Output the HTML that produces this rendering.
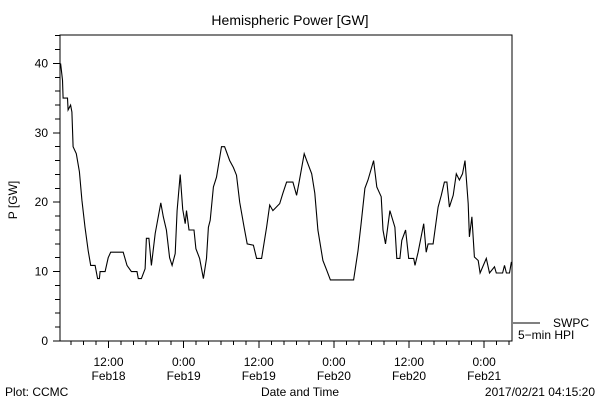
<!DOCTYPE html>
<html><head><meta charset="utf-8"><style>
body{margin:0;background:#fff}
svg text{font-family:"Liberation Sans",sans-serif;fill:#000}
</style></head><body>
<svg id="chart" width="600" height="400" viewBox="0 0 600 400" xmlns="http://www.w3.org/2000/svg">
<rect width="600" height="400" fill="#fff"/>
<text x="290" y="25" font-size="14" text-anchor="middle">Hemispheric Power [GW]</text>
<text x="0" y="0" font-size="12" text-anchor="middle" transform="translate(17,200) rotate(-90)">P [GW]</text>
<text x="300" y="396" font-size="12" text-anchor="middle">Date and Time</text>
<text x="5" y="396" font-size="12">Plot: CCMC</text>
<text x="595" y="396" font-size="12" text-anchor="end">2017/02/21 04:15:20</text>
<g id="axes"></g>
<g id="series"></g>
<g>
<line x1="513" y1="323" x2="540" y2="323" stroke="#000" stroke-width="1"/>
<text x="553" y="327" font-size="12">SWPC</text>
<text x="518" y="339" font-size="12">5−min HPI</text>
</g>
</svg>
<script>
const hours=[0.1,0.4,0.5,1.2,1.3,1.7,1.9,2.1,2.6,3.1,3.5,4.0,4.5,4.9,5.6,6.0,6.3,6.4,7.2,7.7,8.1,10.1,10.7,11.4,12.3,12.5,13.0,13.6,13.8,14.2,14.6,15.2,15.5,16.1,16.5,17.0,17.5,17.9,18.4,18.7,19.2,19.6,20.0,20.2,20.6,21.4,21.7,22.3,22.9,23.4,23.7,24.0,24.5,25.0,25.8,26.3,27.1,27.7,28.2,28.7,29.4,29.9,30.9,31.4,32.2,33.0,33.5,34.0,35.1,35.6,36.2,37.2,37.8,38.2,39.0,39.4,40.2,40.7,41.2,42.0,42.6,43.2,46.9,47.6,48.1,48.7,49.2,50.1,50.6,51.3,51.6,52.0,52.7,53.5,53.8,54.3,54.6,55.2,55.7,56.5,56.7,57.2,58.1,58.5,58.8,59.6,60.4,60.9,61.4,61.8,62.2,62.8,63.3,63.8,64.3,64.7,65.2,65.4,65.8,66.2,66.8,67.1,68.1,68.6,69.4,69.7,70.7,71.0,71.3,71.8,72.1];
const power=[40,37.6,35,35,33.3,34,33,28,27,24.4,20.3,16.4,13,10.9,10.9,9,9,10,10,12,12.8,12.8,10.9,10,10,9,9,10.4,14.8,14.8,10.9,15.5,16.9,19.9,17.9,16,12,10.9,12.6,18.8,24,19,16.9,18.8,16,16,13.3,11.9,9,11.9,16.4,17.4,22.2,23.6,28,28,26,25,23.9,20,16.4,14,13.8,11.9,11.9,16.4,19.6,18.8,19.8,21.3,22.9,22.9,21,22.9,27,26,24.1,21.3,16,11.6,10.2,8.8,8.8,13,16.9,22,23.2,26,22.2,20.8,16,14,18.8,16.4,11.9,11.9,14.5,16,11.9,11.9,10.9,12.8,16.9,12.8,14,14,19.3,21,22.9,22.9,19.3,21,24.1,23.2,24.1,26,19.8,15,17.9,12.1,11.6,9.8,11.9,9.8,10.7,9.8,9.8,10.9,9.8,9.8,11.4];
const yTicks=[0,10,20,30,40];
const xTickHours=[7.75,19.75,31.75,43.75,55.75,67.75];
const xTickTime=["12:00","0:00","12:00","0:00","12:00","0:00"];
const xTickDay=["Feb18","Feb19","Feb19","Feb20","Feb20","Feb21"];

const L=60,R=512,T=35,B=341,ymax=44.1,hmax=72.2;
const X=h=>L+(h/hmax)*(R-L);
const Y=v=>B-(v/ymax)*(B-T);
const NS="http://www.w3.org/2000/svg";
function mk(tag,attrs,parent){const e=document.createElementNS(NS,tag);for(const k in attrs)e.setAttribute(k,attrs[k]);parent.appendChild(e);return e;}
const axes=document.getElementById('axes');
const frame=mk('rect',{x:L,y:T,width:R-L,height:B-T,fill:'none',stroke:'#000','stroke-width':1,'shape-rendering':'crispEdges'},axes);


for(let v=0;v<=ymax;v+=2){
  const major=v%10===0;
  const t=mk('line',{x1:L-(major?7:5),x2:L,y1:Y(v),y2:Y(v),stroke:'#000','shape-rendering':'crispEdges'},axes);
  
  
}
yTicks.forEach(v=>{
  const t=mk('text',{x:L-12,y:Y(v)+4,'font-size':12,'text-anchor':'end'},axes);
  t.textContent=v;
  
  
});
for(let h=-0.25;h<=hmax;h+=2){
  if(h<0)continue;
  const major=xTickHours.some(m=>Math.abs(m-h)<0.01);
  const t=mk('line',{x1:X(h),x2:X(h),y1:B,y2:B+(major?7:4),stroke:'#000','shape-rendering':'crispEdges'},axes);
  
  
}
xTickHours.forEach((h,i)=>{
  const a=mk('text',{x:X(h),y:366,'font-size':12,'text-anchor':'middle'},axes);
  a.textContent=xTickTime[i];
  
  
  const b=mk('text',{x:X(h),y:380,'font-size':12,'text-anchor':'middle'},axes);
  b.textContent=xTickDay[i];
  
  
});
const pts=hours.map((h,i)=>X(h).toFixed(1)+','+Y(power[i]).toFixed(1)).join(' ');
const line=mk('polyline',{points:pts,fill:'none',stroke:'#000','stroke-width':1.1},document.getElementById('series'));


</script>
</body></html>
